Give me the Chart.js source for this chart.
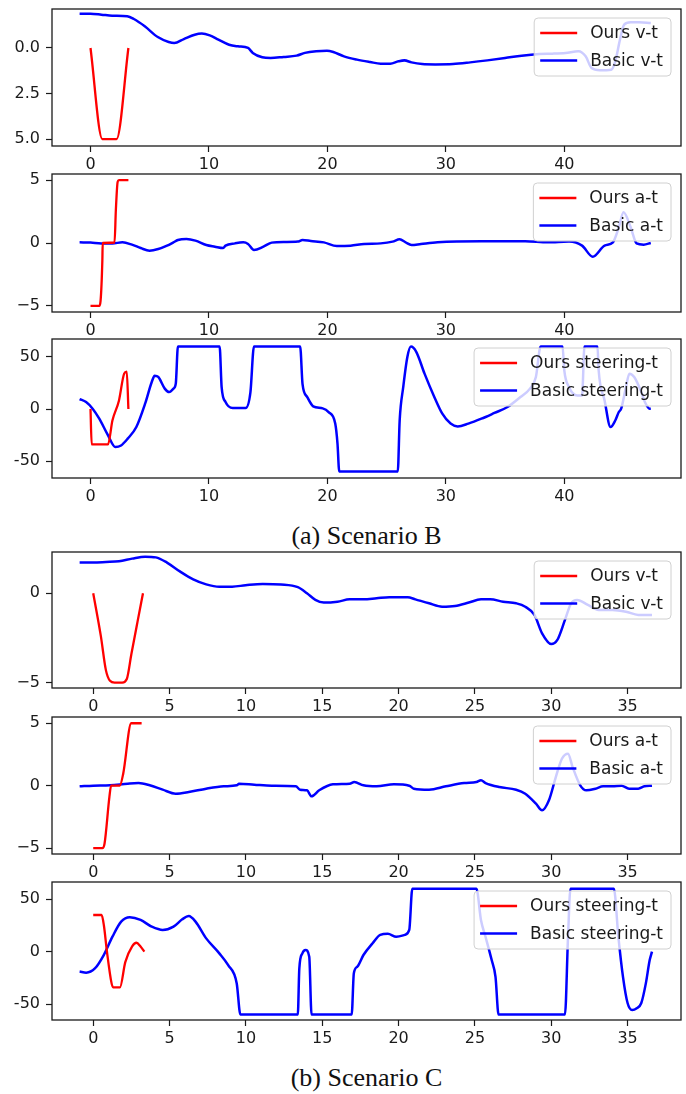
<!DOCTYPE html>
<html>
<head>
<meta charset="utf-8">
<script src="https://cdn.jsdelivr.net/npm/chart.js@4.4.0/dist/chart.umd.min.js"></script>
<style>
  body { margin: 0; background: #fff; width: 686px; height: 1094px; position: relative; overflow: hidden; }
  .plot { position: absolute; left: 0; width: 686px; }
  .caption { position: absolute; left: 52px; width: 629px; text-align: center;
             font-family: "Liberation Serif", "Times New Roman", serif; font-size: 26px; color: #111; line-height: 30px; }
</style>
</head>
<body>

<div class="plot" style="top:-3px"><canvas id="vB" width="686" height="179"></canvas></div>
<div class="plot" style="top:162px"><canvas id="aB" width="686" height="180"></canvas></div>
<div class="plot" style="top:327px"><canvas id="sB" width="686" height="181"></canvas></div>
<div class="caption" style="top:521px">(a) Scenario B</div>
<div class="plot" style="top:540px"><canvas id="vC" width="686" height="178"></canvas></div>
<div class="plot" style="top:705px"><canvas id="aC" width="686" height="179"></canvas></div>
<div class="plot" style="top:870px"><canvas id="sC" width="686" height="180"></canvas></div>
<div class="caption" style="top:1063px">(b) Scenario C</div>

<script>
// ---- Scenario B ----
const tOursVB = [0, 1.0, 2.2, 3.2];
const oursVB  = [0, -5, -5, 0];
const tBasicVB = [-0.92,0,0.92,1.83,3.1,3.66,4.58,5.68,6.6,7.07,7.88,8.8,9.4,10.07,10.8,11.7,12.45,13.3,13.7,14.5,15.2,16.3,17.4,18.1,19.05,19.96,20.5,21.4,22.5,23.6,24.5,25.3,26.0,26.5,27.1,28.0,29.1,30.6,32.05,33.5,35.0,36.4,37.9,39.0,40.1,41.2,41.8,42.3,43.0,43.96,44.3,44.7,45.05,45.6,46.3,47.3];
const basicVB  = [1.88,1.88,1.83,1.77,1.74,1.59,1.19,0.60,0.33,0.27,0.49,0.73,0.79,0.69,0.46,0.18,0.09,0.0,-0.27,-0.51,-0.55,-0.49,-0.42,-0.27,-0.18,-0.15,-0.22,-0.46,-0.64,-0.77,-0.86,-0.86,-0.73,-0.68,-0.79,-0.88,-0.90,-0.88,-0.79,-0.68,-0.55,-0.42,-0.33,-0.31,-0.27,-0.18,-0.46,-1.10,-1.22,-1.19,-0.73,0.46,1.28,1.41,1.41,1.37];

const tOursAB = [0, 0.74, 0.85, 1.0, 1.03, 2.03, 2.14, 2.29, 2.4, 3.2];
const oursAB  = [-5, -5, -4.6, -1.4, 0, 0.03, 2.6, 4.85, 5, 5];
const tBasicAB = [-0.92,0,0.92,1.85,2.7,3.5,4.24,4.98,5.72,6.46,7.0,7.38,8.1,8.86,9.78,10.5,11.2,11.4,12.2,12.9,13.3,13.8,14.6,15.3,16.4,17.5,17.9,18.6,19.7,20.8,21.95,23.1,24.5,25.5,26.1,26.6,27.1,27.9,29.3,33.0,36.7,38.6,40.4,41.5,42.4,43.4,44.1,44.6,45.0,45.6,46.1,46.7,47.3];
const basicAB  = [0.05,0.03,-0.03,-0.03,0.05,-0.13,-0.4,-0.61,-0.48,-0.21,0.05,0.24,0.32,0.19,-0.16,-0.29,-0.4,-0.21,-0.03,0.05,-0.08,-0.56,-0.29,0.03,0.08,0.11,0.24,0.16,0.05,-0.24,-0.21,-0.08,-0.03,0.11,0.29,0.05,-0.16,-0.08,0.05,0.13,0.13,0.05,0.11,-0.21,-1.09,-0.21,0.05,1.25,2.45,1.25,-0.03,-0.13,0];

const tOursSB = [0, 0.1, 1.48, 1.85, 2.4, 2.84, 3.06, 3.2];
const oursSB  = [0, -34, -34, -11, 8, 34, 36, 0];
const tBasicSB = [-0.92,-0.37,0.18,0.74,1.48,2.1,2.58,3.14,3.87,4.61,5.17,5.42,5.72,6.27,6.64,7.0,7.2,7.38,10.9,11.07,11.4,12.0,13.1,13.5,13.8,17.7,17.9,18.3,18.8,19.6,20.1,20.66,20.85,21.0,25.94,26.1,26.4,26.75,27.05,27.5,28.2,28.97,29.7,30.4,31.0,31.9,33.0,34.1,35.2,36.3,37.1,37.6,38.0,39.85,40.0,40.4,41.1,41.5,41.7,42.8,42.9,43.4,43.9,44.3,44.6,44.8,45.2,45.5,45.9,46.5,46.8,47.2,47.3];
const basicSB  = [9.6,6.7,0.3,-9.3,-25.3,-36.5,-35,-28.5,-17.3,5.1,26,32,30.8,19.6,16.3,19.6,24.4,60,60,21,6.7,1,1,16,60,60,24,11.5,2.6,0.6,-3,-14,-33,-60,-60,-11,21,50,60,55,34,13,-4.5,-14,-16.7,-14,-9.3,-3.8,1.9,11.5,19.6,30.8,60,60,37,21,13,13,60,60,37,8.3,-17.3,-11,-2.9,0.3,21,34,30.8,16.3,6.7,0.3,0.3];

// ---- Scenario C ----
const tOursVC = [0, 0.5, 0.83, 1.1, 1.4, 1.9, 2.2, 2.5, 2.9, 3.26];
const oursVC  = [0, -2.4, -4.3, -4.9, -5, -5, -4.8, -3.4, -1.6, 0];
const tBasicVC = [-0.89,0,0.83,1.69,2.55,3.4,4.1,4.83,5.7,6.55,7.4,8.26,9.1,9.98,11.1,12.3,13.4,14.0,14.55,15.1,16.0,16.8,17.7,18.56,19.4,20.6,21.1,22.0,22.85,23.7,24.6,25.4,26.0,26.85,27.7,28.3,28.9,29.4,30.0,30.4,30.9,31.3,31.7,32.4,33.1,34.0,34.9,35.7,36.6];
const basicVC  = [1.72,1.72,1.75,1.79,1.94,2.05,2.01,1.72,1.21,0.78,0.5,0.37,0.37,0.45,0.52,0.49,0.34,0,-0.37,-0.52,-0.47,-0.34,-0.34,-0.28,-0.22,-0.22,-0.34,-0.56,-0.75,-0.71,-0.52,-0.34,-0.34,-0.47,-0.56,-0.75,-1.21,-2.24,-2.84,-2.61,-1.49,-0.56,-0.37,-0.65,-0.93,-0.93,-1.03,-1.21,-1.21];

const tOursAC = [0, 0.6, 0.74, 1.06, 1.17, 1.74, 1.97, 2.49, 3.17];
const oursAC  = [-5, -5, -4.65, -0.9, 0, 0, 1.0, 5, 5];
const tBasicAC = [-0.89,0,1.1,2.26,2.97,3.7,4.55,5.4,6.26,7.4,8.55,9.4,9.55,10.55,11.7,13.27,13.55,14.0,14.3,14.8,15.7,16.8,17.1,17.7,18.56,19.7,20.7,21.0,22.0,23.1,24.3,25.1,25.4,25.7,26.6,27.7,28.3,29.0,29.4,29.85,30.3,30.7,31.1,31.4,31.9,32.3,32.9,33.4,34.0,34.6,35.1,35.7,36.1,36.6];
const basicAC  = [-0.05,0,0.03,0.16,0.21,0.03,-0.32,-0.64,-0.51,-0.24,-0.05,0.03,0.16,0.08,0,-0.05,-0.32,-0.37,-0.85,-0.37,0.11,0.16,0.29,0.03,-0.05,0.11,0,-0.24,-0.32,-0.05,0.21,0.29,0.43,0.21,-0.11,-0.32,-0.64,-1.44,-1.97,-1.17,0.69,2.16,2.56,1.49,0.03,-0.37,-0.24,-0.05,-0.05,0,-0.24,-0.24,-0.05,0];

const tOursSC = [0, 0.55, 0.7, 0.9, 1.2, 1.3, 1.75, 2.1, 2.55, 2.83, 3.1, 3.35];
const oursSC  = [35, 35, 25, 0, -30, -34, -34, -10, 5, 8.5, 5, 0];
const tBasicSC = [-0.89,-0.46,0.11,0.69,1.26,1.83,2.4,3.1,3.83,4.55,5.26,5.83,6.26,6.7,7.4,8.26,8.83,9.4,9.64,13.4,13.5,13.7,13.9,14.15,14.3,16.93,17.07,17.3,17.7,18.3,18.8,19.3,19.85,20.4,20.7,20.9,25.1,25.4,25.7,26.1,26.35,26.55,30.9,31.1,31.26,34.1,34.4,34.7,35.0,35.3,35.6,35.9,36.2,36.45,36.6];
const basicSC  = [-19,-20,-16,-3.2,14.3,28.7,32.8,30.3,23.9,20.7,23.9,30.9,34,28.7,12.7,-1.6,-12.7,-30.3,-60,-60,-16,-1.6,1.6,-4.8,-60,-60,-20.7,-14.3,-3.2,8,16,17,14.3,16,20.7,60,60,30,14,-8,-24,-60,-60,14,60,60,14,-24,-49,-55.7,-54,-49,-30,-8,0];

// ---- ticks ----
const xTicksB = [0, 10, 20, 30, 40];
const xTicksC = [0, 5, 10, 15, 20, 25, 30, 35];
const vTicksB = [0, -2.5, -5];
const vLabelsB = ['0.0', '2.5', '5.0'];
const aTicks = [-5, 0, 5];
const aLabels = ['\u22125', '0', '5'];
const sTicks = [-50, 0, 50];
const sLabels = ['-50', '0', '50'];
const vTicksC = [-5, 0];
const vLabelsC = ['\u22125', '0'];

const TICK_FONT = { family: '"DejaVu Sans", sans-serif', size: 16 };
const LEGEND_FONT = '17px "DejaVu Sans", sans-serif';

function pts(t, v) {
  var n = Math.min(t.length, v.length);
  var out = [];
  for (var i = 0; i < n; i++) out.push({ x: t[i], y: v[i] });
  return out;
}

// frame + matplotlib style legend in the upper right corner
const frameLegend = {
  id: 'frameLegend',
  afterDatasetsDraw(chart) {
    const ctx = chart.ctx, a = chart.chartArea;
    ctx.save();
    ctx.strokeStyle = '#1a1a1a';
    ctx.lineWidth = 1.3;
    ctx.strokeRect(a.left, a.top, a.right - a.left, a.bottom - a.top);

    const items = chart.data.datasets;
    ctx.font = LEGEND_FONT;
    const tw = Math.max.apply(null, items.map(d => ctx.measureText(d.label).width));
    const w = 6 + 37 + 13 + tw + 8, h = 58;
    const x = a.right - 10 - w, y = a.top + 9;
    ctx.beginPath();
    ctx.roundRect(x, y, w, h, 4);
    ctx.fillStyle = 'rgba(255,255,255,0.8)';
    ctx.fill();
    ctx.strokeStyle = '#d0d0d0';
    ctx.lineWidth = 1;
    ctx.stroke();
    items.forEach((d, i) => {
      const cy = y + 15 + i * 27.5;
      ctx.strokeStyle = d.borderColor;
      ctx.lineWidth = 2.5;
      ctx.beginPath();
      ctx.moveTo(x + 6, cy);
      ctx.lineTo(x + 43, cy);
      ctx.stroke();
      ctx.fillStyle = '#1a1a1a';
      ctx.textBaseline = 'middle';
      ctx.fillText(d.label, x + 56, cy + 1);
    });
    ctx.restore();
  }
};

function makeChart(id, opt) {
  const ctx = document.getElementById(id).getContext('2d');
  const config = {
    type: 'line',
    data: {
      datasets: [
        { label: opt.oursLabel, data: pts(opt.tOurs, opt.ours), borderColor: '#ff0000', borderWidth: 2.3,
          pointRadius: 0, fill: false, cubicInterpolationMode: 'monotone' },
        { label: opt.basicLabel, data: pts(opt.tBasic, opt.basic), borderColor: '#0000ff', borderWidth: 2.5,
          pointRadius: 0, fill: false, cubicInterpolationMode: 'monotone' }
      ]
    },
    options: {
      responsive: false,
      animation: false,
      devicePixelRatio: 1,
      layout: { padding: { left: 0, right: 5, top: 12, bottom: 0 } },
      plugins: { legend: { display: false }, tooltip: { enabled: false } },
      scales: {
        x: {
          type: 'linear', min: opt.xMin, max: opt.xMax,
          afterBuildTicks: s => { s.ticks = opt.xTicks.map(v => ({ value: v })); },
          afterFit: s => { s.height = 30; s.paddingLeft = 0; s.paddingRight = 0; },
          ticks: { font: TICK_FONT, color: '#1a1a1a', padding: 3, maxRotation: 0,
                   callback: v => String(v) },
          grid: { drawOnChartArea: false, drawTicks: true, tickLength: 6, tickColor: '#1a1a1a', tickWidth: 1.2 },
          border: { display: false }
        },
        y: {
          type: 'linear', min: opt.yMin, max: opt.yMax,
          afterBuildTicks: s => { s.ticks = opt.yTicks.map(v => ({ value: v })); },
          afterFit: s => { s.width = 52; s.paddingTop = 0; s.paddingBottom = 0; },
          ticks: { font: TICK_FONT, color: '#1a1a1a', padding: 6,
                   callback: (v, i) => opt.yLabels[i] },
          grid: { drawOnChartArea: false, drawTicks: true, tickLength: 6, tickColor: '#1a1a1a', tickWidth: 1.2 },
          border: { display: false }
        }
      }
    },
    plugins: [frameLegend]
  };
  return new Chart(ctx, config);
}

makeChart('vB', { oursLabel: 'Ours v-t', basicLabel: 'Basic v-t', tOurs: tOursVB, ours: oursVB, tBasic: tBasicVB, basic: basicVB,
  xMin: -3.25, xMax: 49.85, xTicks: xTicksB, yMin: -5.38, yMax: 2.14, yTicks: vTicksB, yLabels: vLabelsB });
makeChart('aB', { oursLabel: 'Ours a-t', basicLabel: 'Basic a-t', tOurs: tOursAB, ours: oursAB, tBasic: tBasicAB, basic: basicAB,
  xMin: -3.25, xMax: 49.85, xTicks: xTicksB, yMin: -5.48, yMax: 5.48, yTicks: aTicks, yLabels: aLabels });
makeChart('sB', { oursLabel: 'Ours steering-t', basicLabel: 'Basic steering-t', tOurs: tOursSB, ours: oursSB, tBasic: tBasicSB, basic: basicSB,
  xMin: -3.25, xMax: 49.85, xTicks: xTicksB, yMin: -66.3, yMax: 67.3, yTicks: sTicks, yLabels: sLabels });

makeChart('vC', { oursLabel: 'Ours v-t', basicLabel: 'Basic v-t', tOurs: tOursVC, ours: oursVC, tBasic: tBasicVC, basic: basicVC,
  xMin: -2.7, xMax: 38.5, xTicks: xTicksC, yMin: -5.3, yMax: 2.31, yTicks: vTicksC, yLabels: vLabelsC });
makeChart('aC', { oursLabel: 'Ours a-t', basicLabel: 'Basic a-t', tOurs: tOursAC, ours: oursAC, tBasic: tBasicAC, basic: basicAC,
  xMin: -2.7, xMax: 38.5, xTicks: xTicksC, yMin: -5.47, yMax: 5.5, yTicks: aTicks, yLabels: aLabels });
makeChart('sC', { oursLabel: 'Ours steering-t', basicLabel: 'Basic steering-t', tOurs: tOursSC, ours: oursSC, tBasic: tBasicSC, basic: basicSC,
  xMin: -2.7, xMax: 38.5, xTicks: xTicksC, yMin: -65.2, yMax: 66.5, yTicks: sTicks, yLabels: sLabels });
</script>
</body>
</html>
